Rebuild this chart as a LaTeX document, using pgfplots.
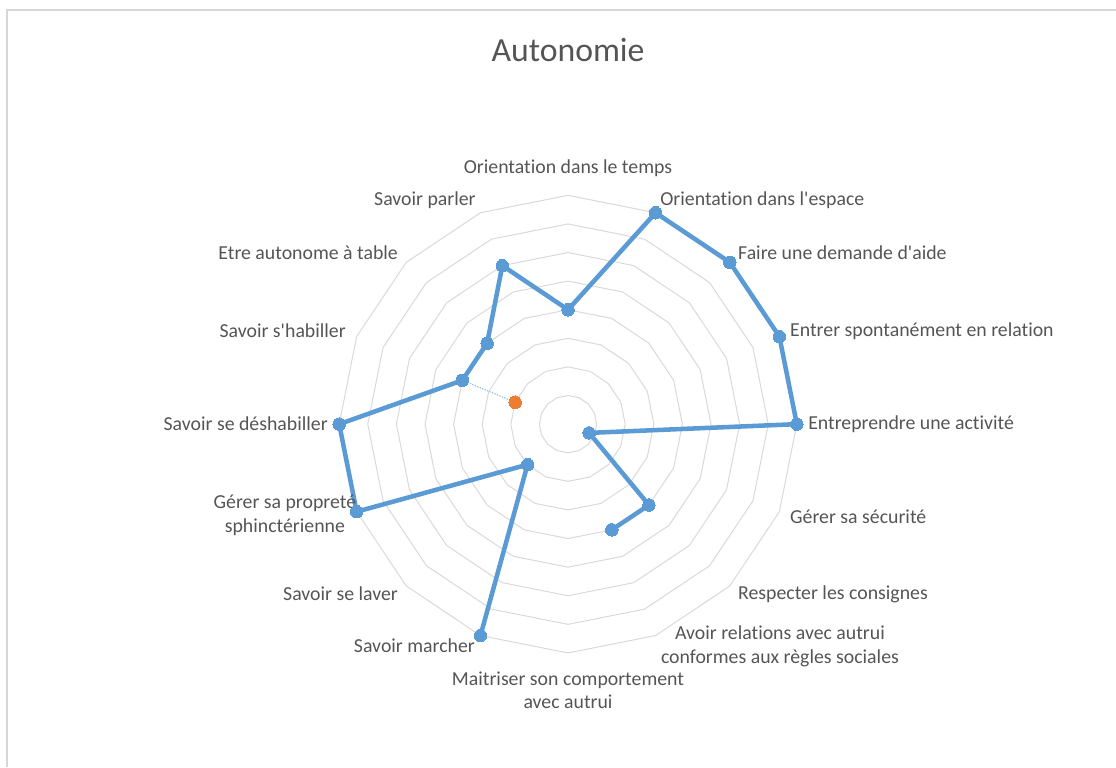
\documentclass[border=0pt]{standalone}
\usepackage{pgfplots}
\pgfplotsset{compat=1.18}
\usepackage{fontspec}
\setmainfont{Carlito}[Ligatures=TeX, RawFeature={-liga,-clig,-calt,-dlig}]
\definecolor{serblue}{RGB}{91,155,213}
\definecolor{serorange}{RGB}{237,125,49}
\definecolor{gridgray}{RGB}{217,217,217}
\definecolor{txtgray}{RGB}{85,85,85}
\definecolor{framegray}{RGB}{214,214,214}
\tikzset{lbl/.style={font=\fontsize{14.85}{17.8}\selectfont, text=txtgray, inner sep=0pt}}
\begin{document}
\begin{tikzpicture}
\begin{axis}[
  name=ax,
  hide axis,
  clip=false,
  x=21.45pt, y=21.45pt,
  xmin=-19.86, xmax=19.16, ymin=-11.99, ymax=14.83,
]
% frame
\draw[framegray, line width=1.5pt] (axis cs:-19.62,-11.99) -- (axis cs:-19.62,14.48) -- (axis cs:19.16,14.48);
% polygonal grid rings
\pgfplotsinvokeforeach{1,...,8}{
  \addplot[gridgray, line width=0.75pt, data cs=polar, mark=none] coordinates {
    (0,#1) (22.5,#1) (45,#1) (67.5,#1) (90,#1) (112.5,#1) (135,#1) (157.5,#1)
    (180,#1) (202.5,#1) (225,#1) (247.5,#1) (270,#1) (292.5,#1) (315,#1) (337.5,#1) (360,#1)};
}
% thin dotted link
\addplot[serblue!70, line width=0.8pt, dash pattern=on 1pt off 1pt, data cs=polar, mark=none]
  coordinates {(157.5,4) (157.5,2)};
% main series (gap at "Maitriser son comportement avec autrui")
\addplot[serblue, line width=3.4pt, data cs=polar, line join=round,
  mark=*, mark size=4.7pt, mark options={fill=serblue, draw=serblue, line width=0pt}]
  coordinates {
    (-112.5,8) (-135,2) (-157.5,8) (180,8) (157.5,4) (135,4) (112.5,6)
    (90,4) (67.5,8) (45,8) (22.5,8) (0,8) (-22.5,0.8) (-45,4) (-67.5,4)
  };
% second series
\addplot[only marks, data cs=polar, mark=*, mark size=4.7pt,
  mark options={fill=serorange, draw=serorange, line width=0pt}]
  coordinates {(157.5,2)};
% labels
\node[lbl, anchor=center] at (axis cs:0,8.95) {Orientation dans le temps};
\node[lbl, anchor=west] at (axis cs:3.22,7.83) {Orientation dans l\textquotesingle espace};
\node[lbl, anchor=west] at (axis cs:5.94,5.98) {Faire une demande d\textquotesingle aide};
\node[lbl, anchor=west] at (axis cs:7.76,3.25) {Entrer spontanément en relation};
\node[lbl, anchor=west] at (axis cs:8.39,0) {Entreprendre une activité};
\node[lbl, anchor=west] at (axis cs:7.76,-3.25) {Gérer sa sécurité};
\node[lbl, anchor=west] at (axis cs:5.94,-5.94) {Respecter les consignes};
\node[lbl, anchor=center, align=center] at (axis cs:7.41,-7.76) {Avoir relations avec autrui\\conformes aux règles sociales};
\node[lbl, anchor=center, align=center] at (axis cs:0,-9.30) {Maitriser son comportement\\avec autrui};
\node[lbl, anchor=east] at (axis cs:-3.25,-7.76) {Savoir marcher};
\node[lbl, anchor=east] at (axis cs:-5.94,-5.94) {Savoir se laver};
\node[lbl, anchor=center, align=center] at (axis cs:-9.90,-3.18) {Gérer sa propreté\\sphinctérienne};
\node[lbl, anchor=east] at (axis cs:-8.39,0) {Savoir se déshabiller};
\node[lbl, anchor=east] at (axis cs:-7.76,3.25) {Savoir s\textquotesingle habiller};
\node[lbl, anchor=east] at (axis cs:-5.94,5.98) {Etre autonome à table};
\node[lbl, anchor=east] at (axis cs:-3.22,7.83) {Savoir parler};
% title
\node[font=\fontsize{25.3}{30}\selectfont, text=txtgray, inner sep=0pt, anchor=center] at (axis cs:0,13.08) {Autonomie};
\end{axis}
\pgfresetboundingbox
\path[use as bounding box] (ax.south west) rectangle (ax.north east);
\end{tikzpicture}
\end{document}
